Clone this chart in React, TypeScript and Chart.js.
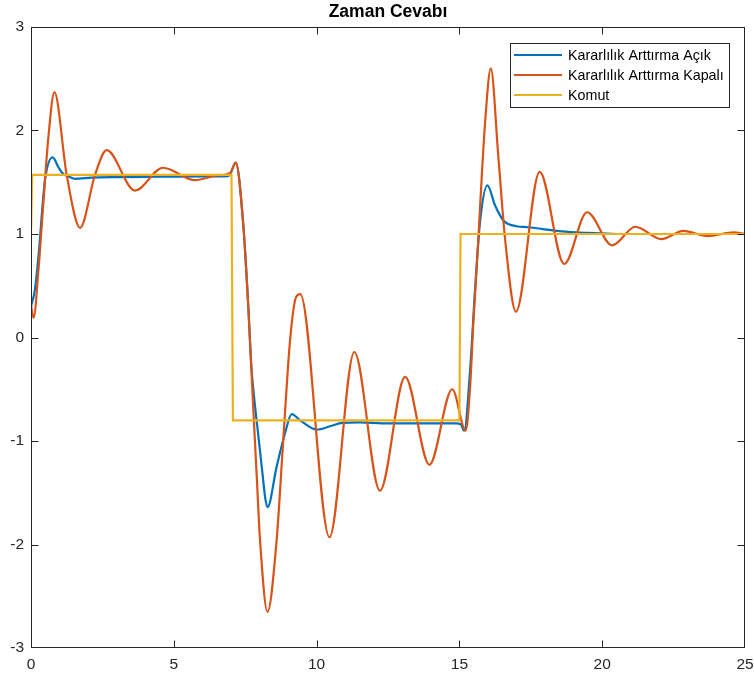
import React, { useEffect, useRef } from "react";
import { Chart, registerables } from "chart.js";

Chart.register(...registerables);

const chartTitle = "Zaman Cevabı";
const seriesNames = ["Kararlılık Arttırma Açık", "Kararlılık Arttırma Kapalı", "Komut"];
const seriesColors = ["#0072BD", "#D95319", "#EDB120"];
const xTicks = [0, 5, 10, 15, 20, 25];
const yTicks = [-3, -2, -1, 0, 1, 2, 3];

// Komut (command)
const komutT = [0, 0.04, 7.02, 7.07, 15.0, 15.04, 25];
const komutY = [1.0, 1.5708, 1.5708, -0.8, -0.8, 1.0, 1.0];

// Kararlılık Arttırma Açık
const acikT = [0, 0.13, 0.26, 0.49, 0.76, 0.96, 1.13, 1.25, 1.54, 2.12, 3.0, 4.5, 6.0, 6.9, 6.97, 7.17, 7.43, 7.61, 7.72, 7.82, 7.92, 8.1, 8.2, 8.28, 8.6, 8.89, 9.13, 9.42, 10.0, 10.5, 10.9, 11.5, 12.5, 14.9, 15.05, 15.17, 15.37, 15.55, 15.72, 15.98, 16.25, 16.54, 16.69, 17.0, 17.4, 17.87, 18.58, 19.5, 20.5, 25];
const acikY = [0.3, 0.45, 0.78, 1.52, 1.74, 1.645, 1.58, 1.565, 1.533, 1.545, 1.55, 1.553, 1.556, 1.56, 1.575, 1.69, 1.1, 0.29, -0.3, -0.6, -0.85, -1.3, -1.55, -1.64, -1.25, -0.93, -0.74, -0.8, -0.89, -0.855, -0.825, -0.82, -0.83, -0.83, -0.84, -0.9, -0.335, 0.47, 1.11, 1.47, 1.275, 1.13, 1.1, 1.075, 1.065, 1.05, 1.025, 1.01, 1.0, 1.0];

// Kararlılık Arttırma Kapalı
const kapaliT = [0, 0.09, 0.26, 0.43, 0.61, 0.82, 1.25, 1.72, 2.24, 2.65, 3.64, 4.62, 5.74, 6.5, 6.97, 7.17, 7.43, 7.61, 7.78, 7.9, 8.02, 8.28, 8.6, 8.83, 9.07, 9.28, 9.43, 10.45, 11.32, 12.22, 13.1, 13.95, 14.75, 15.22, 15.37, 15.49, 15.63, 15.76, 15.9, 16.1, 16.36, 16.6, 16.98, 17.81, 18.67, 19.47, 20.35, 21.16, 22.07, 22.84, 23.7, 24.6, 25];
const kapaliY = [0.31, 0.19, 0.65, 1.29, 1.94, 2.37, 1.57, 1.06, 1.57, 1.81, 1.42, 1.64, 1.52, 1.565, 1.59, 1.69, 1.1, 0.29, -0.67, -1.32, -1.96, -2.65, -1.96, -1.0, -0.03, 0.39, 0.42, -1.93, -0.14, -1.48, -0.38, -1.23, -0.5, -0.9, -0.5, 0.15, 0.79, 1.44, 2.08, 2.6, 1.76, 0.95, 0.25, 1.6, 0.71, 1.21, 0.89, 1.07, 0.95, 1.03, 0.98, 1.015, 1.0];

const FONT = "'Liberation Sans', Arial, Helvetica, sans-serif";
const AXIS_COLOR = "#262626";

const toPoints = (t: number[], y: number[]) => t.map((x, i) => ({ x, y: y[i] }));

export default function App() {
  const ref = useRef<HTMLCanvasElement>(null);

  useEffect(() => {
    document.body.style.margin = "0";
    const canvas = ref.current;
    if (!canvas) return;

    const framePlugin = {
      id: "matlabFrame",
      beforeDraw(chart: any) {
        const ctx = chart.ctx;
        ctx.save();
        ctx.fillStyle = "#ffffff";
        ctx.fillRect(0, 0, chart.width, chart.height);
        ctx.restore();
      },
      afterDatasetsDraw(chart: any) {
        const ctx = chart.ctx;
        const a = chart.chartArea;
        const xs = chart.scales.x;
        const ys = chart.scales.y;
        const tl = 7;
        const L = Math.round(a.left) + 0.5;
        const R = Math.round(a.right) - 0.5;
        const T = Math.round(a.top) + 0.5;
        const B = Math.round(a.bottom) - 0.5;
        ctx.save();
        // axes box
        ctx.strokeStyle = AXIS_COLOR;
        ctx.lineWidth = 1;
        ctx.strokeRect(L, T, R - L, B - T);
        ctx.beginPath();
        xTicks.forEach((v) => {
          const px = Math.min(Math.max(Math.round(xs.getPixelForValue(v)) + 0.5, L), R);
          ctx.moveTo(px, B);
          ctx.lineTo(px, B - tl);
          ctx.moveTo(px, T);
          ctx.lineTo(px, T + tl);
        });
        yTicks.forEach((v) => {
          const py = Math.min(Math.max(Math.round(ys.getPixelForValue(v)) + 0.5, T), B);
          ctx.moveTo(L, py);
          ctx.lineTo(L + tl, py);
          ctx.moveTo(R, py);
          ctx.lineTo(R - tl, py);
        });
        ctx.stroke();

        // title
        ctx.fillStyle = "#000000";
        ctx.font = `bold 17.5px ${FONT}`;
        ctx.textAlign = "center";
        ctx.textBaseline = "middle";
        ctx.fillText(chartTitle, (a.left + a.right) / 2, 12);

        // legend
        const bx = 510, by = 43, bw = 219, bh = 64;
        ctx.fillStyle = "#ffffff";
        ctx.fillRect(bx, by, bw, bh);
        ctx.strokeStyle = AXIS_COLOR;
        ctx.lineWidth = 1;
        ctx.strokeRect(bx + 0.5, by + 0.5, bw, bh);
        const rows = [55, 75, 95];
        ctx.font = `14.3px ${FONT}`;
        ctx.textAlign = "left";
        ctx.textBaseline = "middle";
        seriesNames.forEach((name, i) => {
          ctx.strokeStyle = seriesColors[i];
          ctx.lineWidth = 2;
          ctx.beginPath();
          ctx.moveTo(514, rows[i]);
          ctx.lineTo(562, rows[i]);
          ctx.stroke();
          ctx.fillStyle = "#000000";
          ctx.fillText(name, 568, rows[i] + 1);
        });
        ctx.restore();
      },
    };

    const tickFont = { family: FONT, size: 15.5 };

    const chart = new Chart(canvas, {
      type: "line",
      data: {
        datasets: [
          {
            label: seriesNames[0],
            data: toPoints(acikT, acikY),
            borderColor: seriesColors[0],
            borderWidth: 2.2,
            cubicInterpolationMode: "monotone",
            pointRadius: 0,
            order: 2,
          },
          {
            label: seriesNames[1],
            data: toPoints(kapaliT, kapaliY),
            borderColor: seriesColors[1],
            borderWidth: 2.2,
            cubicInterpolationMode: "monotone",
            pointRadius: 0,
            order: 1,
          },
          {
            label: seriesNames[2],
            data: toPoints(komutT, komutY),
            borderColor: seriesColors[2],
            borderWidth: 2.2,
            tension: 0,
            pointRadius: 0,
            order: 0,
          },
        ],
      },
      options: {
        animation: false,
        responsive: false,
        maintainAspectRatio: false,
        layout: { padding: { top: 27, right: 9, left: 0, bottom: 0 } },
        plugins: {
          legend: { display: false },
          title: { display: false },
          tooltip: { enabled: false },
        },
        elements: { point: { radius: 0 } },
        scales: {
          x: {
            type: "linear",
            min: 0,
            max: 25,
            afterBuildTicks: (s: any) => {
              s.ticks = xTicks.map((v) => ({ value: v }));
            },
            grid: { display: false, drawTicks: false },
            border: { display: false },
            ticks: { padding: 7, maxRotation: 0, autoSkip: false, font: tickFont, color: AXIS_COLOR },
            afterFit: (s: any) => {
              s.height = 30;
              s.paddingLeft = 0;
              s.paddingRight = 0;
            },
          },
          y: {
            type: "linear",
            min: -3,
            max: 3,
            afterBuildTicks: (s: any) => {
              s.ticks = yTicks.map((v) => ({ value: v }));
            },
            grid: { display: false, drawTicks: false },
            border: { display: false },
            ticks: { padding: 7, autoSkip: false, font: tickFont, color: AXIS_COLOR },
            afterFit: (s: any) => {
              s.width = 31;
              s.paddingTop = 0;
              s.paddingBottom = 0;
            },
          },
        },
      },
      plugins: [framePlugin],
    } as any);

    return () => chart.destroy();
  }, []);

  return (
    <div style={{ width: 754, height: 678 }}>
      <canvas ref={ref} width={754} height={678} style={{ display: "block" }} />
    </div>
  );
}
